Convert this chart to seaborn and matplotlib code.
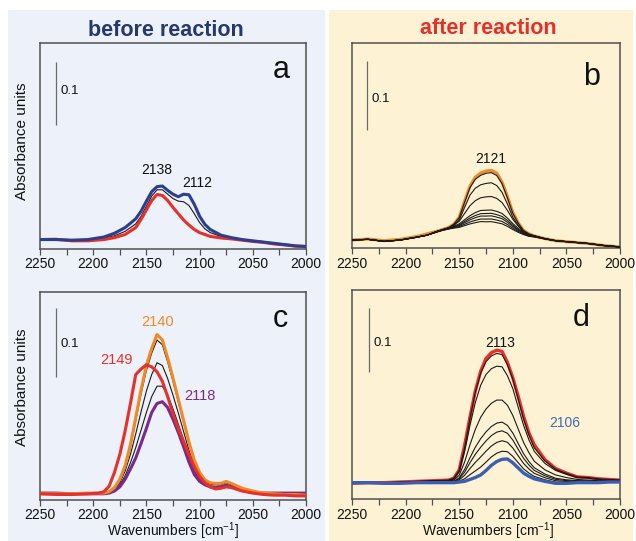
import matplotlib
matplotlib.use("Agg")
import matplotlib.pyplot as plt
from matplotlib.patches import Rectangle
from matplotlib.ticker import MultipleLocator
import seaborn as sns

# ---------------- data (absorbance) ----------------
wn_a = [2250, 2235, 2220, 2205, 2190, 2180, 2170, 2160, 2155, 2150, 2145, 2140, 2135, 2130,
        2125, 2120, 2115, 2110, 2105, 2100, 2095, 2090, 2080, 2070, 2060, 2050, 2040, 2030,
        2020, 2010, 2000]
a_red = [0.015, 0.0155, 0.013, 0.013, 0.015, 0.018, 0.023, 0.034, 0.047, 0.062, 0.077, 0.0865,
         0.085, 0.077, 0.066, 0.056, 0.046, 0.038, 0.031, 0.026, 0.023, 0.020, 0.0175, 0.016,
         0.014, 0.012, 0.0105, 0.008, 0.0065, 0.0045, 0.004]
a_blue = [0.015, 0.015, 0.014, 0.015, 0.019, 0.025, 0.034, 0.048, 0.060, 0.076, 0.091, 0.099,
          0.100, 0.093, 0.087, 0.083, 0.087, 0.086, 0.071, 0.052, 0.039, 0.031, 0.022, 0.018,
          0.015, 0.013, 0.011, 0.009, 0.007, 0.005, 0.004]
a_black = [0.015, 0.015, 0.014, 0.014, 0.017, 0.021, 0.028, 0.040, 0.052, 0.068, 0.084, 0.094,
           0.094, 0.087, 0.080, 0.076, 0.075, 0.069, 0.056, 0.042, 0.032, 0.026, 0.020, 0.017,
           0.0145, 0.0125, 0.0108, 0.0085, 0.0068, 0.0048, 0.004]

wn_b = [2250, 2235, 2220, 2205, 2190, 2180, 2170, 2160, 2155, 2150, 2145, 2140, 2135, 2130,
        2125, 2120, 2115, 2110, 2105, 2100, 2095, 2090, 2085, 2080, 2070, 2060, 2045, 2030,
        2015, 2000]
b_orange = [0.012, 0.0135, 0.011, 0.013, 0.017, 0.021, 0.025, 0.030, 0.035, 0.045, 0.068, 0.090,
            0.103, 0.109, 0.112, 0.113, 0.109, 0.096, 0.075, 0.052, 0.037, 0.026, 0.021, 0.018,
            0.014, 0.011, 0.009, 0.007, 0.004, 0.002]
b_black1 = [0.012, 0.013, 0.010, 0.012, 0.016, 0.019, 0.024, 0.0295, 0.035, 0.0445, 0.0665, 0.0877,
            0.100, 0.1057, 0.1087, 0.1096, 0.1055, 0.0935, 0.073, 0.0508, 0.0365, 0.0257, 0.0208,
            0.0181, 0.0139, 0.011, 0.009, 0.007, 0.004, 0.002]
b_black2 = [0.012, 0.013, 0.010, 0.012, 0.016, 0.019, 0.024, 0.029, 0.033, 0.041, 0.059, 0.077,
            0.087, 0.092, 0.094, 0.095, 0.091, 0.081, 0.064, 0.045, 0.033, 0.024, 0.020, 0.018,
            0.014, 0.011, 0.009, 0.007, 0.004, 0.002]
b_black3 = [0.012, 0.013, 0.010, 0.012, 0.016, 0.019, 0.025, 0.030, 0.034, 0.039, 0.0505, 0.0616,
            0.069, 0.0732, 0.0745, 0.075, 0.0723, 0.0662, 0.0549, 0.042, 0.0324, 0.0249, 0.0203,
            0.0181, 0.0141, 0.011, 0.009, 0.007, 0.004, 0.002]
b_black4 = [0.012, 0.013, 0.010, 0.012, 0.016, 0.019, 0.025, 0.0295, 0.0322, 0.0354, 0.0413, 0.0472,
            0.0517, 0.0548, 0.0552, 0.0555, 0.0535, 0.0504, 0.0438, 0.0359, 0.0291, 0.0236, 0.0195,
            0.0178, 0.014, 0.011, 0.009, 0.007, 0.004, 0.002]
b_black5 = [0.012, 0.013, 0.010, 0.012, 0.016, 0.019, 0.0249, 0.029, 0.0313, 0.0339, 0.0389, 0.0438,
            0.0475, 0.0502, 0.0504, 0.0507, 0.0488, 0.0461, 0.0404, 0.0334, 0.0274, 0.0225, 0.0189,
            0.0174, 0.0139, 0.011, 0.009, 0.007, 0.004, 0.002]
b_black6 = [0.012, 0.013, 0.010, 0.012, 0.016, 0.019, 0.0248, 0.0286, 0.0307, 0.0328, 0.037, 0.0412,
            0.0444, 0.0467, 0.0467, 0.047, 0.0452, 0.0429, 0.0377, 0.0315, 0.0261, 0.0217, 0.0184,
            0.0171, 0.0138, 0.011, 0.009, 0.007, 0.004, 0.002]
b_black7 = [0.012, 0.013, 0.010, 0.012, 0.016, 0.019, 0.0246, 0.0282, 0.0299, 0.0315, 0.0348, 0.0381,
            0.0405, 0.0424, 0.0423, 0.0425, 0.0409, 0.0389, 0.0345, 0.0292, 0.0245, 0.0207, 0.0178,
            0.0167, 0.0136, 0.011, 0.009, 0.007, 0.004, 0.002]
b_black8 = [0.012, 0.013, 0.010, 0.012, 0.016, 0.019, 0.0245, 0.0278, 0.0292, 0.0303, 0.0328, 0.0353,
            0.0371, 0.0387, 0.0384, 0.0386, 0.0371, 0.0355, 0.0317, 0.0272, 0.0232, 0.0199, 0.0173,
            0.0164, 0.0135, 0.011, 0.009, 0.007, 0.004, 0.002]

wn_c = [2250, 2235, 2220, 2205, 2195, 2190, 2185, 2180, 2175, 2170, 2165, 2160, 2155, 2150,
        2145, 2140, 2135, 2130, 2125, 2120, 2115, 2110, 2105, 2100, 2095, 2090, 2085, 2080,
        2075, 2070, 2060, 2050, 2040, 2030, 2020, 2010, 2000]
c_orange = [0.009, 0.009, 0.009, 0.010, 0.010, 0.010, 0.012, 0.018, 0.030, 0.050, 0.080, 0.120,
            0.160, 0.195, 0.220, 0.240, 0.232, 0.206, 0.177, 0.146, 0.115, 0.084, 0.058, 0.040,
            0.029, 0.025, 0.024, 0.024, 0.027, 0.024, 0.017, 0.013, 0.010, 0.009, 0.008, 0.008, 0.007]
c_red = [0.009, 0.008, 0.008, 0.009, 0.010, 0.012, 0.020, 0.040, 0.066, 0.100, 0.140, 0.182,
         0.190, 0.196, 0.193, 0.186, 0.172, 0.150, 0.125, 0.104, 0.085, 0.066, 0.048, 0.034,
         0.025, 0.019, 0.016, 0.017, 0.019, 0.018, 0.013, 0.010, 0.008, 0.007, 0.007, 0.006, 0.006]
c_purple = [0.010, 0.010, 0.009, 0.009, 0.009, 0.009, 0.010, 0.013, 0.019, 0.030, 0.045, 0.061,
            0.082, 0.104, 0.127, 0.140, 0.1425, 0.134, 0.117, 0.098, 0.077, 0.055, 0.037, 0.027,
            0.022, 0.019, 0.018, 0.019, 0.021, 0.019, 0.014, 0.011, 0.010, 0.010, 0.010, 0.010, 0.010]
c_black1 = [0.009, 0.009, 0.009, 0.010, 0.010, 0.010, 0.012, 0.018, 0.029, 0.048, 0.077, 0.115,
            0.154, 0.188, 0.213, 0.232, 0.225, 0.200, 0.172, 0.142, 0.112, 0.082, 0.056, 0.039,
            0.028, 0.025, 0.024, 0.024, 0.027, 0.024, 0.017, 0.013, 0.010, 0.009, 0.008, 0.008, 0.007]
c_black2 = [0.0094, 0.0094, 0.009, 0.0096, 0.0096, 0.0096, 0.011, 0.016, 0.025, 0.042, 0.066, 0.096,
            0.128, 0.158, 0.182, 0.199, 0.195, 0.176, 0.152, 0.126, 0.099, 0.072, 0.049, 0.035,
            0.026, 0.023, 0.022, 0.022, 0.025, 0.022, 0.016, 0.012, 0.010, 0.0094, 0.0088, 0.0088, 0.0082]
c_black3 = [0.010, 0.010, 0.009, 0.009, 0.009, 0.009, 0.0105, 0.014, 0.022, 0.035, 0.054, 0.076,
            0.1015, 0.127, 0.150, 0.165, 0.165, 0.152, 0.132, 0.110, 0.0865, 0.062, 0.042, 0.030,
            0.024, 0.0205, 0.0195, 0.020, 0.0225, 0.020, 0.015, 0.0115, 0.010, 0.010, 0.0095, 0.0095, 0.009]

wn_d = [2250, 2235, 2220, 2205, 2190, 2175, 2160, 2155, 2150, 2145, 2140, 2135, 2130, 2125,
        2120, 2115, 2110, 2105, 2100, 2095, 2090, 2085, 2080, 2070, 2060, 2050, 2040, 2030,
        2020, 2010, 2000]
d_red = [0.025, 0.026, 0.026, 0.027, 0.028, 0.029, 0.030, 0.033, 0.046, 0.084, 0.128, 0.169,
         0.200, 0.220, 0.229, 0.233, 0.231, 0.214, 0.190, 0.161, 0.130, 0.104, 0.085, 0.062,
         0.048, 0.041, 0.035, 0.034, 0.032, 0.031, 0.030]
d_blue = [0.026, 0.026, 0.025, 0.025, 0.026, 0.026, 0.026, 0.026, 0.027, 0.028, 0.031, 0.034,
          0.038, 0.045, 0.053, 0.059, 0.0625, 0.063, 0.057, 0.049, 0.041, 0.036, 0.032, 0.028,
          0.025, 0.025, 0.026, 0.026, 0.026, 0.027, 0.027]
d_black1 = [0.025, 0.026, 0.026, 0.027, 0.028, 0.029, 0.030, 0.033, 0.045, 0.080, 0.126, 0.167,
            0.197, 0.215, 0.224, 0.228, 0.226, 0.210, 0.188, 0.157, 0.126, 0.101, 0.0805, 0.060,
            0.047, 0.0405, 0.035, 0.034, 0.032, 0.031, 0.030]
d_black2 = [0.025, 0.026, 0.026, 0.027, 0.028, 0.029, 0.029, 0.032, 0.043, 0.074, 0.115, 0.151,
            0.178, 0.195, 0.204, 0.208, 0.207, 0.193, 0.173, 0.144, 0.116, 0.093, 0.075, 0.056,
            0.045, 0.039, 0.034, 0.033, 0.031, 0.030, 0.030]
d_black3 = [0.026, 0.026, 0.026, 0.026, 0.027, 0.028, 0.028, 0.030, 0.0375, 0.058, 0.085, 0.109,
            0.128, 0.141, 0.150, 0.155, 0.155, 0.147, 0.131, 0.110, 0.089, 0.073, 0.0595, 0.046,
            0.038, 0.034, 0.031, 0.030, 0.029, 0.029, 0.029]
d_black4 = [0.026, 0.026, 0.025, 0.026, 0.027, 0.027, 0.027, 0.028, 0.0336, 0.0466, 0.0648, 0.0813,
            0.0946, 0.1054, 0.1137, 0.119, 0.1206, 0.1154, 0.1036, 0.0873, 0.0714, 0.0591, 0.0493,
            0.0394, 0.0329, 0.0305, 0.0291, 0.0288, 0.0281, 0.0284, 0.028]
d_black5 = [0.026, 0.026, 0.025, 0.025, 0.026, 0.027, 0.027, 0.028, 0.032, 0.0423, 0.0569, 0.0702,
            0.0813, 0.0912, 0.0995, 0.1049, 0.107, 0.1031, 0.0926, 0.0783, 0.0642, 0.0537, 0.0452,
            0.0367, 0.0311, 0.0292, 0.0284, 0.0281, 0.0276, 0.0281, 0.0278]
d_black6 = [0.026, 0.026, 0.025, 0.025, 0.026, 0.026, 0.027, 0.027, 0.0303, 0.0373, 0.0479, 0.0576,
            0.0662, 0.0751, 0.0833, 0.0889, 0.0915, 0.0891, 0.0802, 0.0681, 0.0561, 0.0475, 0.0406,
            0.0337, 0.029, 0.0278, 0.0275, 0.0274, 0.027, 0.0277, 0.0275]
d_black7 = [0.026, 0.026, 0.025, 0.025, 0.026, 0.026, 0.026, 0.026, 0.0284, 0.032, 0.0384, 0.0443,
            0.0503, 0.0581, 0.0662, 0.072, 0.0751, 0.0744, 0.0671, 0.0573, 0.0476, 0.041, 0.0358,
            0.0305, 0.0267, 0.0262, 0.0267, 0.0266, 0.0265, 0.0273, 0.0272]

x_ticks = [2250, 2200, 2150, 2100, 2050, 2000]
panel_letters = ["a", "b", "c", "d"]
group_titles = ["before reaction", "after reaction"]
scale_value = 0.1

# ---------------- style ----------------
sns.set_style("ticks")
plt.rcParams["font.family"] = ["Liberation Sans", "DejaVu Sans"]
plt.rcParams["mathtext.default"] = "regular"

C_BLACK = "#1a1a1a"
C_RED = "#e8302a"
C_BLUE_A = "#2c3f8f"
C_ORANGE = "#f08a24"
C_PURPLE = "#7a2a8c"
C_BLUE_D = "#3b5db2"
SPINE = "#505050"

W, H = 636, 541
fig = plt.figure(figsize=(W / 100, H / 100), dpi=100)

# panel backgrounds
fig.add_artist(Rectangle((8 / W, 0), (325 - 8) / W, (H - 10) / H, transform=fig.transFigure,
                         facecolor="#edf1f9", edgecolor="none", zorder=-10))
fig.add_artist(Rectangle((329 / W, 0), (633 - 329) / W, (H - 10) / H, transform=fig.transFigure,
                         facecolor="#fdf3d4", edgecolor="none", zorder=-10))


def make_ax(x0, x1, ytop, ybot):
    return fig.add_axes([x0 / W, 1 - ybot / H, (x1 - x0) / W, (ybot - ytop) / H])


ax_a = make_ax(40, 306, 43, 249)
ax_b = make_ax(352, 620, 43.3, 248.3)
ax_c = make_ax(40, 306, 291.7, 500)
ax_d = make_ax(352, 620, 290, 499.3)

panels = [
    (ax_a, wn_a, [(a_black, C_BLACK, 0.8, 2), (a_red, C_RED, 2.2, 3), (a_blue, C_BLUE_A, 2.2, 4)],
     0.327, (2235.3, 0.197), (2231, 0.251), (2031, 0.271)),
    (ax_b, wn_b, [(b_orange, C_ORANGE, 2.2, 2)] +
     [(v, C_BLACK, 0.8, 3) for v in [b_black1, b_black2, b_black3, b_black4,
                                     b_black5, b_black6, b_black7, b_black8]],
     0.297, (2235.7, 0.1715), (2232, 0.217), (2034.5, 0.2367)),
    (ax_c, wn_c, [(v, C_BLACK, 0.8, 2) for v in [c_black1, c_black2, c_black3]] +
     [(c_purple, C_PURPLE, 2.2, 3), (c_orange, C_ORANGE, 2.2, 4), (c_red, C_RED, 2.2, 5)],
     0.302, (2235.3, 0.178), (2231, 0.226), (2031, 0.251)),
    (ax_d, wn_d, [(d_red, C_RED, 2.4, 2)] +
     [(v, C_BLACK, 0.8, 3) for v in [d_black1, d_black2, d_black3, d_black4,
                                     d_black5, d_black6, d_black7]] +
     [(d_blue, C_BLUE_D, 2.4, 4)],
     0.327, (2234.5, 0.1985), (2230.4, 0.2447), (2043.8, 0.27)),
]

for (ax, wn, curves, ytop, bar, bar_txt, let_pos), letter in zip(panels, panel_letters):
    for vals, col, lw, z in curves:
        sns.lineplot(x=wn, y=vals, ax=ax, color=col, linewidth=lw, zorder=z,
                     estimator=None, sort=False)
    ax.set_xlim(2250, 2000)
    ax.set_ylim(0, ytop)
    ax.set_facecolor("none")
    ax.set_xticks(x_ticks)
    ax.set_xticklabels([str(t) for t in x_ticks])
    ax.xaxis.set_minor_locator(MultipleLocator(25))
    ax.set_yticks([])
    ax.set_ylabel("")
    ax.set_xlabel("")
    ax.tick_params(axis="x", which="both", direction="out", length=4, width=0.9,
                   color=SPINE, labelsize=10, pad=2, labelcolor="#111111")
    for s in ax.spines.values():
        s.set_color(SPINE)
        s.set_linewidth(1.1)
        s.set_visible(True)
    # 0.1 scale bar
    ax.plot([bar[0], bar[0]], [bar[1], bar[1] + scale_value], color="#6a6a6a", lw=0.9,
            solid_capstyle="butt")
    ax.text(bar_txt[0], bar_txt[1], "0.1", fontsize=9.5, ha="left", va="center", color="#111111")
    ax.text(let_pos[0], let_pos[1], letter, fontsize=22, ha="left", va="baseline", color="#111111")

# peak annotations
ax_a.text(2140.3, 0.125, "2138", fontsize=10, ha="center", va="center", color="#111111")
ax_a.text(2102.4, 0.104, "2112", fontsize=10, ha="center", va="center", color="#111111")
ax_b.text(2120.8, 0.130, "2121", fontsize=10, ha="center", va="center", color="#111111")
ax_c.text(2139.4, 0.258, "2140", fontsize=10.5, ha="center", va="center", color=C_ORANGE)
ax_c.text(2178.0, 0.203, "2149", fontsize=10.5, ha="center", va="center", color=C_RED)
ax_c.text(2099.6, 0.151, "2118", fontsize=10.5, ha="center", va="center", color=C_PURPLE)
ax_d.text(2111.3, 0.2447, "2113", fontsize=10, ha="center", va="center", color="#111111")
ax_d.text(2051.6, 0.1197, "2106", fontsize=10, ha="center", va="center", color="#3c6cb4")

# axis labels
for ax, yc in [(ax_a, 0.521), (ax_c, 0.54)]:
    ax.set_ylabel("Absorbance units", fontsize=11, color="#111111")
    ax.yaxis.set_label_coords(-0.041, yc)
for ax, xc in [(ax_c, 0.5), (ax_d, 0.507)]:
    ax.set_xlabel("Wavenumbers [cm$^{-1}$]", fontsize=10, color="#111111")
    ax.xaxis.set_label_coords(xc, -0.1)

# group titles
fig.text(166 / W, 1 - 30 / H, group_titles[0], fontsize=15.5, fontweight="bold",
         color="#26386c", ha="center", va="center")
fig.text(488.5 / W, 1 - 28 / H, group_titles[1], fontsize=15.5, fontweight="bold",
         color="#e5302a", ha="center", va="center")

fig.savefig("out.png", dpi=100)
